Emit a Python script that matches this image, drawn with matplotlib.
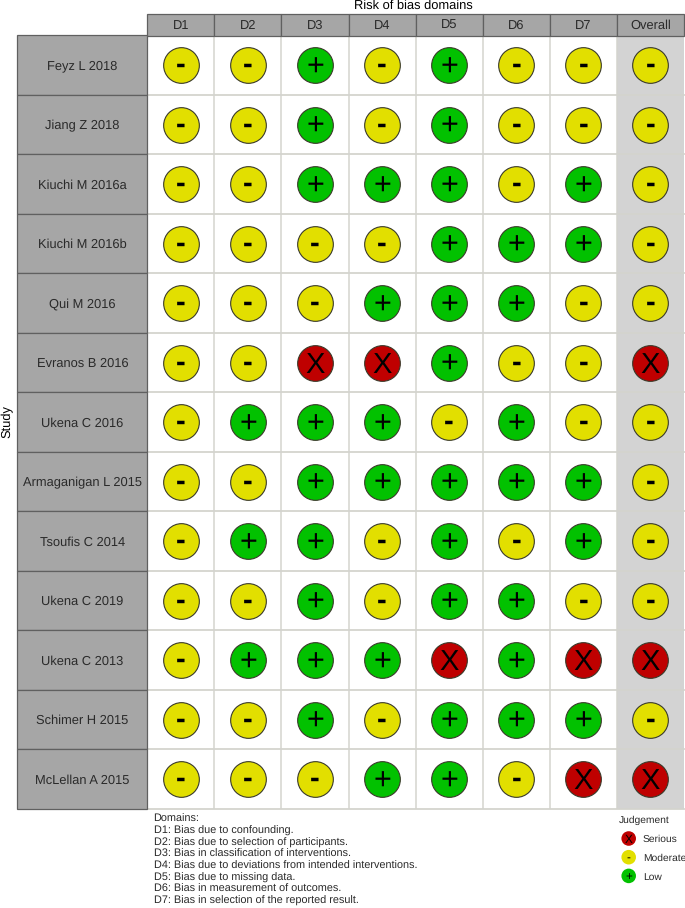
import matplotlib
matplotlib.use("Agg")
import matplotlib.pyplot as plt
from matplotlib.patches import Rectangle

plt.rcParams['font.family'] = ['Liberation Sans', 'DejaVu Sans']
plt.rcParams['text.hinting'] = 'no_hinting'

W, H = 685, 908
studies = ["Feyz L 2018", "Jiang Z 2018", "Kiuchi M 2016a", "Kiuchi M 2016b", "Qui M 2016",
           "Evranos B 2016", "Ukena C 2016", "Armaganigan L 2015", "Tsoufis C 2014",
           "Ukena C 2019", "Ukena C 2013", "Schimer H 2015", "McLellan A 2015"]
domains = ["D1", "D2", "D3", "D4", "D5", "D6", "D7", "Overall"]
D1 = list("-------------")
D2 = list("------+-+-+--")
D3 = list("+++--X++++++-")
D4 = list("--+-+X++--+-+")
D5 = list("++++++-+++X++")
D6 = list("---++-++-+++-")
D7 = list("--++---++-X+X")
overall = list("-----X----X-X")
judgement_names = ["Serious", "Moderate", "Low"]
judgement_symbols = ["X", "-", "+"]
judgement_colours = ["#BF0000", "#E2DF00", "#02C100"]
domain_notes = ["Domains:", "D1: Bias due to confounding.", "D2: Bias due to selection of participants.",
                "D3: Bias in classification of interventions.", "D4: Bias due to deviations from intended interventions.",
                "D5: Bias due to missing data.", "D6: Bias in measurement of outcomes.",
                "D7: Bias in selection of the reported result."]
columns = [D1, D2, D3, D4, D5, D6, D7, overall]
colour_of = dict(zip(judgement_symbols, judgement_colours))

fig = plt.figure(figsize=(W / 100, H / 100), dpi=100, facecolor="white")

def px_axes(x0, y0, x1, y1):
    return fig.add_axes([x0 / W, 1 - y1 / H, (x1 - x0) / W, (y1 - y0) / H])

def centred(a, x, y, s, fs, mid=0.35, **kw):
    a.annotate(s, (x, y), xytext=(0, -mid * fs), textcoords="offset points",
               ha="center", va="baseline", fontsize=fs, **kw)

GX0, GX1, GY0, GY1 = 147.3, 684.0, 35.5, 809.0
TX, TY0 = 17.3, 13.5
STRIP = "#A6A6A6"
EDGE = "#606060"
GRID = "#D4D4CE"
TEXT = "#2A2A2A"
MID = {"-": 0.27, "+": 0.33, "X": 0.345}
SIZE = {"-": 21, "+": 22, "X": 21}
WEIGHT = {"-": "bold", "+": "normal", "X": "normal"}

ax = px_axes(GX0, GY0, GX1, GY1)
n_r, n_c = len(studies), len(domains)
ax.set_xlim(0.5, n_c + 0.5)
ax.set_ylim(n_r + 0.5, 0.5)
ax.axis("off")
ax.add_patch(Rectangle((n_c - 0.5, 0.5), 1, n_r, fc="#D3D3D3", ec="none", zorder=0))
for i in range(1, n_c):
    ax.axvline(i + 0.5, color=GRID, lw=1.1, zorder=1)
for j in range(1, n_r + 1):
    ax.axhline(j + 0.5, color=GRID, lw=1.3, zorder=1, clip_on=False)
for c, col in enumerate(columns):
    for r, v in enumerate(col):
        ax.scatter(c + 1, r + 1, s=660, color=colour_of[v], edgecolor="#3A3A2A", linewidth=0.8, zorder=2)
        centred(ax, c + 1, r + 1, v, SIZE[v], mid=MID[v], color="black", fontweight=WEIGHT[v], zorder=3)

top = px_axes(GX0, TY0, GX1, GY0)
top.set_xlim(0.5, n_c + 0.5)
top.set_ylim(0, 1)
top.axis("off")
for c, d in enumerate(domains):
    top.add_patch(Rectangle((c + 0.5, 0), 1, 1, fc=STRIP, ec=EDGE, lw=0.9, clip_on=False))
    centred(top, c + 1, 0.5, d, 9.3, color=TEXT)

left = px_axes(TX, GY0, GX0, GY1)
left.set_xlim(0, 1)
left.set_ylim(n_r + 0.5, 0.5)
left.axis("off")
for r, s in enumerate(studies):
    left.add_patch(Rectangle((0, r + 0.5), 1, 1, fc=STRIP, ec=EDGE, lw=0.9, clip_on=False))
    centred(left, 0.5, r + 1, s, 9.3, color=TEXT)

fig.text(413 / W, 1 - 5.5 / H, "Risk of bias domains", ha="center", va="center", fontsize=9.3, color="black")
fig.text(7.5 / W, 1 - 422 / H, "Study", rotation=90, ha="center", va="center", fontsize=9.3, color="black")

for i, line in enumerate(domain_notes):
    fig.text(153.5 / W, 1 - (819 + i * 11.7) / H, line, ha="left", va="center", fontsize=7.85, color=TEXT)

fig.text(619 / W, 1 - 820 / H, "Judgement", ha="left", va="center", fontsize=7.4, color=TEXT)
leg = fig.add_axes([0, 0, 1, 1], facecolor="none")
leg.set_xlim(0, W); leg.set_ylim(H, 0); leg.axis("off")
for i, (nm, sy, co) in enumerate(zip(judgement_names, judgement_symbols, judgement_colours)):
    y = 838.5 + i * 18.7
    leg.scatter(628.7, y, s=110, color=co, edgecolor="none")
    centred(leg, 628.7, y, sy, 8.5, mid=MID[sy], color="black")
    leg.annotate(nm, (643, y), xytext=(0, -0.35 * 7.4), textcoords="offset points",
                 ha="left", va="baseline", fontsize=7.4, color=TEXT)

fig.savefig("out.png", dpi=100, facecolor="white")
